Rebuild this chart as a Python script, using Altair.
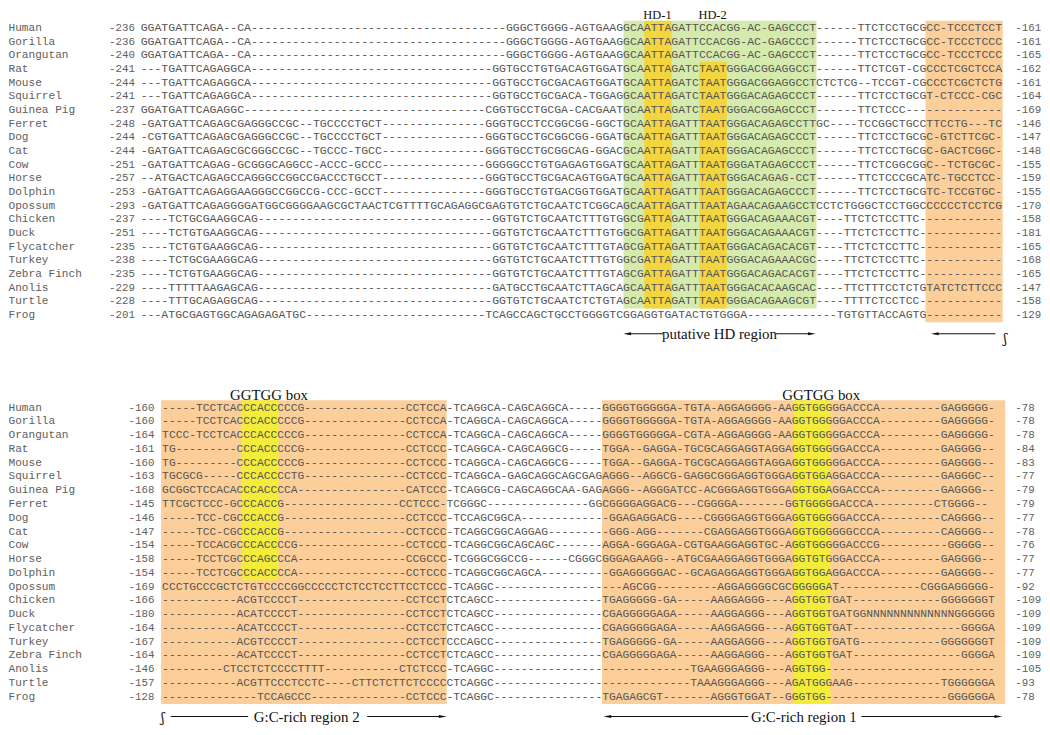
import altair as alt
import pandas as pd

def D(n):
    return "-" * n

species = ["Human", "Gorilla", "Orangutan", "Rat", "Mouse", "Squirrel", "Guinea Pig",
           "Ferret", "Dog", "Cat", "Cow", "Horse", "Dolphin", "Opossum", "Chicken",
           "Duck", "Flycatcher", "Turkey", "Zebra Finch", "Anolis", "Turtle", "Frog"]

top_first = [-236, -236, -240, -241, -244, -241, -237, -248, -244, -244, -251, -257,
             -253, -293, -237, -251, -235, -238, -235, -229, -228, -201]
top_last = [-161, -161, -165, -162, -161, -164, -169, -146, -147, -148, -155, -159,
            -155, -170, -158, -181, -165, -168, -165, -147, -158, -129]
bot_first = [-160, -160, -164, -161, -160, -163, -168, -145, -146, -147, -154, -158,
             -154, -169, -166, -180, -164, -167, -164, -146, -157, -128]
bot_last = [-78, -78, -78, -84, -83, -77, -79, -79, -77, -78, -76, -77, -77, -92,
            -109, -109, -109, -109, -109, -105, -93, -78]

top_seq = [
    "GGATGATTCAGA--CA" + D(37) + "GGGCTGGGG-AGTGAAG" + "GCAATTAGATTCCACGG-AC-GAGCCCT" + "------TTCTCCTGCG" + "CC-TCCCTCCT",
    "GGATGATTCAGA--CA" + D(37) + "GGGCTGGGG-AGTGAAG" + "GCAATTAGATTCCACGG-AC-GAGCCCT" + "------TTCTCCTGCG" + "CC-TCCCTCCC",
    "GGATGATTCAGA--CA" + D(37) + "GGGCTGGGG-AGTGAAG" + "GCAATTAGATTCCACGG-AC-GAGCCCT" + "------TTCTCCTGCG" + "CC-TCCCTCCC",
    "---TGATTCAGAGGCA" + D(35) + "GGTGCCTGTGACAGTGGAT" + "GCAATTAGATCTAATGGGACGGAGGCCT" + "------TTCTCGT-CG" + "CCCTCGCTCCA",
    "---TGATTCAGAGGCA" + D(35) + "GGTGCCTGCGACAGTGGAT" + "GCAATTAGATCTAATGGGACGGAGGCCT" + "CTCTCG--TCCGT-CG" + "CCCTCGCTCTG",
    "---TGATTCAGAGGCA" + D(35) + "GGTGCCTGCGACA-TGGAG" + "GCAATTAGATCTAATGGGACAGAGCCCT" + "------TTCTCCTGCG" + "T-CTCCC-CGC",
    "GGATGATTCAGAGGC" + D(35) + "CGGTGCCTGCGA-CACGAAT" + "GCAATTAGATCTAATGGGACGGAGCCCT" + "------TTCTCCC---" + D(11),
    "-GATGATTCAGAGCGAGGGCCGC--TGCCCCTGCT" + D(15) + "GGGTGCCTCCGGCGG-GGCT" + "GCAATTAGATTTAATGGGACAGAGCCTT" + "GC----TCCGGCTGCC" + "TTCCTG---TC",
    "-CGTGATTCAGAGCGAGGGCCGC--TGCCCCTGCT" + D(15) + "GGGTGCCTGCGGCGG-GGAT" + "GCAATTAGATTTAATGGGACAGAGCCCT" + "------TTCTCCTGCG" + "C-GTCTTCGC-",
    "-GATGATTCAGAGCGCGGGCCGC--TGCCC-TGCC" + D(15) + "GGGTGCCTGCGGCAG-GGAC" + "GCAATTAGATTTAATGGGACAGAGCCCT" + "------TTCTCCTGCG" + "C-GACTCGGC-",
    "-GATGATTCAGAG-GCGGGCAGGCC-ACCC-GCCC" + D(15) + "GGGGGCCTGTGAGAGTGGAT" + "GCAATTAGATTTAATGGGATAGAGCCCT" + "------TTCTCGGCGG" + "C--TCTGCGC-",
    "--ATGACTCAGAGCCAGGGCCGGCCGACCCTGCCT" + D(15) + "GGGTGCCTGCGACAGTGGAT" + "GCAATTAGATTTAATGGGACAGAG-CCT" + "------TTCTCCCGCA" + "TC-TGCCTCC-",
    "-GATGATTCAGAGGAAGGGCCGGCCG-CCC-GCCT" + D(15) + "GGGTGCCTGTGACGGTGGAT" + "GCAATTAGATTTAATGGGACAGAGCCCT" + "------TTCTCCTGCG" + "TC-TCCGTGC-",
    "-GATGATTCAGAGGGGATGGCGGGGAAGCGCTAACTCGTTTTGCAGAGGCGAGTGTCTGCAATCTCGGCA" + "GCAATTAGATTTAATAGAACAGAAGCCT" + "CCTCTGGGCTCCTGGC" + "CCCCCTCCTCG",
    "----TCTGCGAAGGCAG" + D(34) + "GGTGTCTGCAATCTTTGTG" + "GCGATTAGATTTAATGGGACAGAAACGT" + "----TTCTCTCCTTC-" + D(11),
    "----TCTGTGAAGGCAG" + D(34) + "GGTGTCTGCAATCTTTGTG" + "GCGATTAGATTTAATGGGACAGAAACGT" + "----TTCTCTCCTTC-" + D(11),
    "----TCTGTGAAGGCAG" + D(34) + "GGTGTCTGCAATCTTTGTA" + "GCGATTAGATTTAATGGGACAGACACGT" + "----TTCTCTCCTTC-" + D(11),
    "----TCTGCGAAGGCAG" + D(34) + "GGTGTCTGCAATCTTTGTG" + "GCGATTAGATTTAATGGGACAGAAACGC" + "----TTCTCTCCTTC-" + D(11),
    "----TCTGTGAAGGCAG" + D(34) + "GGTGTCTGCAATCTTTGTA" + "GCGATTAGATTTAATGGGACAGACACGT" + "----TTCTCTCCTTC-" + D(11),
    "----TTTTTAAGAGCAG" + D(34) + "GATGCCTGCAATCTTAGCA" + "GCAATTAGATTTAATGGGACACAAGCAC" + "----TTCTTTCCTCTG" + "TATCTCTTCCC",
    "----TTTGCAGAGGCAG" + D(34) + "GGTGTCTGCAATCTCTGTA" + "GCAATTAGATTTAATGGGACAGAAGCGT" + "----TTTTCTCCTCC-" + D(11),
    "---ATGCGAGTGGCAGAGAGATGC" + D(26) + "TCAGCCAGCTGCCTGGGGTC" + "GGAGGTGATACTGTGGGA" + D(13) + "TGTGTTACCAGTG" + D(11),
]

bot_seq = [
    "-----TCCTCACCCACCCCCG" + D(15) + "CCTCCA" + "-TCAGGCA-CAGCAGGCA-----" + "GGGGTGGGGGA-TGTA-AGGAGGGG-AAGGTGGGGGACCCA" + D(9) + "GAGGGGG-",
    "-----TCCTCACCCACCCCCG" + D(15) + "CCTCCA" + "-TCAGGCA-CAGCAGGCA-----" + "GGGGTGGGGGA-TGTA-AGGAGGGG-AAGGTGGGGGACCCA" + D(9) + "GAGGGGG-",
    "TCCC-TCCTCACCCACCCCCG" + D(15) + "CCTCCA" + "-TCAGGCA-CAGCAGGCA-----" + "GGGGTGGGGGA-CGTA-AGGAGGGG-AAGGTGGGGGACCCA" + D(9) + "GAGGGGG-",
    "TG---------CCCACCCCCG" + D(15) + "CCTCCC" + "-TCAGGCA-CAGCAGGCG-----" + "TGGA--GAGGA-TGCGCAGGAGGTAGGAGGTGGGGGACCCA" + D(9) + "GAGGGG--",
    "TG---------CCCACCCCCG" + D(15) + "CCTCCC" + "-TCAGGCA-CAGCAGGCG-----" + "TGGA--GAGGA-TGCGCAGGAGGTAGGAGGTGGGGGACCCA" + D(9) + "GAGGGG--",
    "TGCGCG-----CCCACCCCTG" + D(15) + "CCTCCC" + "-TCAGGCA-GAGCAGGCAGCGAG" + "AGGG--AGGCG-GAGGCGGGAGGTGGGAGGTGGAGGACCCA" + D(9) + "GAGGGC--",
    "GCGGCTCCACACCCACCCCA" + D(16) + "CATCCC" + "-TCAGGCG-CAGCAGGCAA-GAG" + "AGGG--AGGGATCC-ACGGGAGGTGGGAGGTGGAGGACCCA" + D(9) + "GAGGGG--",
    " TTCGCTCCC-GCCCACCG" + D(17) + "CCTCCC" + "-TCGGGC" + D(15) + "G" + "GCGGGGAGGACG---CGGGGA-------GGTGGGGGACCCA" + D(9) + "CTGGGG--",
    "-----TCC-CGCCCACCG" + D(18) + "CCTCCC" + "-TCCAGCGGCA" + D(12) + "-GGAGAGGACG----CGGGGAGGTGGGAGGTGGGGGACCCA" + D(9) + "CAGGGG--",
    "-----TCC-CGCCCACCG" + D(18) + "CCTCCC" + "-TCAGGCGGCAGGAG" + D(8) + "-GGG-AGG-------CGAGGAGGTGGGAGGTGGGGGGCCCA" + D(9) + "CAGGGG--",
    "-----TCCACGCCCACCCCG" + D(16) + "CCTCCC" + "-TCAGGCGGCAGCAGC" + D(7) + "AGGA-GGGAGA-CGTGAAGGAGGTGC-AGGTGGGGGACCCG" + D(10) + "GGGGG--",
    "-----TCCTCGCCCAGCCCA" + D(16) + "CCGCCC" + "-TCGGGCGGCCG------CGGGC" + "GGGAGAAGG--ATGCGAAGGAGGTGGGAGGTGTGGGACCCA" + D(9) + "GAGGGG--",
    "-----TCCTCGCCCACCCCA" + D(16) + "CCTCCC" + "-TCAGGCGGCAGCA" + D(9) + "-GGAGGGGGAC--GCAGAGGAGGTGGGAGGTGGAGGACCCA" + D(9) + "GAGGGG--",
    "CCCTGCCCGCTCTGTCCCCGGCCCCCTCTCCTCCTTCCTCCC" + "-TCAGGC" + D(16) + "---AGCGG" + D(9) + "AGGAGGGGCGC" + "GGGGG" + "AT" + D(12) + "CGGGAGGGGG-",
    D(11) + "ACGTCCCCT" + D(16) + "CCTCCT" + "CTCAGCC" + D(16) + "TGAGGGGG-GA" + D(5) + "AAGGAGGG---A" + "GGTGG" + "TGAT" + D(13) + "GGGGGGGT",
    D(11) + "ACATCCCCT" + D(16) + "CCTCCT" + "CTCAGCC" + D(16) + "CGAGGGGGAGA" + D(5) + "AAGGAGGG---A" + "GGTGG" + "TGATGG" + "N" * 13 + "GGGGGG",
    D(11) + "ACATCCCCT" + D(16) + "CCTCCT" + "CTCAGCC" + D(16) + "CGAGGGGGAGA" + D(5) + "AAGGAGGG---A" + "GGTGG" + "TGAT" + D(16) + "GGGGA",
    D(11) + "ACGTCCCCT" + D(16) + "CCTCCT" + "CCCAGCC" + D(16) + "TGAGGGGG-GA" + D(5) + "AAGGAGGG---A" + "GGTGG" + "TGATG" + D(12) + "GGGGGGGT",
    D(11) + "ACATCCCCT" + D(16) + "CCTCCT" + "CTCAGCC" + D(16) + "CGAGGGGGAGA" + D(5) + "AAGGAGGG---A" + "GGTGG" + "TGAT" + D(16) + "GGGGA",
    D(9) + "CTCCTCTCCCCTTTT" + D(11) + "CTCTCCC" + "-TCAGGC" + D(16) + D(13) + "TGAAGGGAGGG" + "---A" + "GGTGG" + D(25),
    D(11) + "ACGTTCCCTCCTC" + D(4) + "CTTCTCTTCTCCCC" + "CTCAGGC" + D(16) + D(13) + "TAAAGGGAGGG" + "---A" + "GATGG" + "GAAG" + D(13) + "TGGGGGGA",
    D(14) + "TCCAGCCC" + D(14) + "CCTCCC" + "-TCAGGC" + D(16) + "TGAGAGCGT" + D(7) + "AGGGTGGAT--G" + "GGTGG" + D(18) + "GGGGGGA",
]

for s in top_seq:
    assert len(s) == 125, (len(s), s)
for s in bot_seq:
    assert len(s) == 123, (len(s), s)

# ---- layout (page pixel coordinates) ----
W, H, PAGE = 1042, 719, 8
TX0, TCW, TY0, TDY = 141.7, 6.95, 25.5, 13.76
BX0, BCW, BY0, BDY = 163.3, 6.83, 408.0, 13.87
GREEN, YEL_T, ORANGE, YEL_B = "#d5ebae", "#f3d63f", "#fccf9a", "#f3ec3a"
SEQ_COL, LAB_COL = "#555555", "#606060"

xs = alt.Scale(domain=[PAGE, PAGE + W], range=[0, W], nice=False, zero=False)
ys = alt.Scale(domain=[PAGE, PAGE + H], range=[0, H], nice=False, zero=False)


def X(f="x"):
    return alt.X(f"{f}:Q", scale=xs, axis=None)


def Y(f="y"):
    return alt.Y(f"{f}:Q", scale=ys, axis=None)


# highlight boxes: (block, col0, col1, row0, row1, colour)
boxes = [
    ("t", 70, 98, 0, 20, GREEN), ("t", 73, 77, 0, 20, YEL_T), ("t", 81, 85, 3, 20, YEL_T),
    ("t", 113.8, 125, 0, 21, ORANGE),
    ("b", -0.15, 42, 0, 21, ORANGE), ("b", 64.9, 124.4, 0, 21, ORANGE),
    ("b", 11.7, 17.2, 0, 12, YEL_B), ("b", 93.2, 98.6, 0, 21, YEL_B),
]
rows = []
for blk, c0, c1, r0, r1, col in boxes:
    x0, cw, y0, dy = (TX0, TCW, TY0, TDY) if blk == "t" else (BX0, BCW, BY0, BDY)
    rows.append(dict(x=x0 + c0 * cw, x2=x0 + c1 * cw,
                     y=y0 + r0 * dy - dy / 2 - 0.5, y2=y0 + r1 * dy + dy / 2 + 0.5, fill=col))
rect_df = pd.DataFrame(rows)
rects = alt.Chart(rect_df).mark_rect().encode(
    x=X(), x2="x2:Q", y=Y(), y2="y2:Q", color=alt.Color("fill:N", scale=None))

n = len(species)
top_df = pd.DataFrame(dict(seq=top_seq, x=[TX0] * n, y=[TY0 + i * TDY for i in range(n)]))
bot_df = pd.DataFrame(dict(seq=bot_seq, x=[BX0] * n, y=[BY0 + i * BDY for i in range(n)]))

top_text = alt.Chart(top_df).mark_text(align="left", baseline="middle", font="Liberation Mono",
                                       fontSize=TCW / 0.6, color=SEQ_COL).encode(x=X(), y=Y(), text="seq:N")
bot_text = alt.Chart(bot_df).mark_text(align="left", baseline="middle", font="Liberation Mono",
                                       fontSize=BCW / 0.6, color=SEQ_COL).encode(x=X(), y=Y(), text="seq:N")

names_df = pd.concat([
    pd.DataFrame(dict(t=species, x=[PAGE + 0.5] * n, y=top_df["y"])),
    pd.DataFrame(dict(t=species, x=[PAGE + 0.5] * n, y=bot_df["y"])),
])
names = alt.Chart(names_df).mark_text(align="left", baseline="middle", font="Liberation Mono",
                                      fontSize=11.2, color=LAB_COL).encode(x=X(), y=Y(), text="t:N")

lnum_df = pd.concat([
    pd.DataFrame(dict(t=[str(v) for v in top_first], x=[136.0] * n, y=top_df["y"])),
    pd.DataFrame(dict(t=[str(v) for v in bot_first], x=[155.5] * n, y=bot_df["y"])),
])
lnums = alt.Chart(lnum_df).mark_text(align="right", baseline="middle", font="Liberation Mono",
                                     fontSize=10.9, color=LAB_COL).encode(x=X(), y=Y(), text="t:N")
rnum_df = pd.concat([
    pd.DataFrame(dict(t=[str(v) for v in top_last], x=[1023.0] * n, y=top_df["y"])),
    pd.DataFrame(dict(t=[str(v) for v in bot_last], x=[1023.0] * n, y=bot_df["y"])),
])
rnums = alt.Chart(rnum_df).mark_text(align="left", baseline="middle", font="Liberation Mono",
                                     fontSize=10.9, color=LAB_COL).encode(x=X(), y=Y(), text="t:N")

# annotations
TOP_AY = TY0 + 21 * TDY + 19
BOT_AY = BY0 + 21 * BDY + 20
hd_df = pd.DataFrame(dict(t=["HD-1", "HD-2"], x=[662.5, 718.0], y=[16.6, 16.6]))
hd = alt.Chart(hd_df).mark_text(align="center", baseline="alphabetic", font="Liberation Serif",
                                fontSize=12.5, color="#111").encode(x=X(), y=Y(), text="t:N")

ann_labels = ["putative HD region", "GGTGG box", "GGTGG box",
              "G:C-rich region 2", "G:C-rich region 1"]
ann_x = [725.0, 271.0, 827.5, 309.0, 810.0]
ann_y = [TOP_AY, 395.0, 395.0, BOT_AY, BOT_AY]
ann_df = pd.DataFrame(dict(t=ann_labels, x=ann_x, y=ann_y))
ann = alt.Chart(ann_df).mark_text(align="center", baseline="middle", font="Liberation Serif",
                                  fontSize=15, color="#111").encode(x=X(), y=Y(), text="t:N")

squig_df = pd.DataFrame(dict(t=["ʃ", "ʃ"], x=[1013.0, 164.0], y=[TOP_AY + 5, BOT_AY + 1]))
squig = alt.Chart(squig_df).mark_text(align="center", baseline="middle", font="DejaVu Serif",
                                      fontSize=13, color="#111").encode(x=X(), y=Y(), text="t:N")

lines_df = pd.DataFrame(dict(
    x=[632, 782, 942, 172, 370, 612, 868],
    x2=[668, 818, 1003, 250, 446, 754, 1006],
    y=[TOP_AY, TOP_AY, TOP_AY, BOT_AY, BOT_AY, BOT_AY, BOT_AY]))
lines = alt.Chart(lines_df).mark_rule(color="#111", strokeWidth=1.1).encode(x=X(), x2="x2:Q", y=Y())

RIGHT = "M1,0L-1,-0.4L-1,0.4Z"
LEFT = "M-1,0L1,-0.4L1,0.4Z"
heads_df = pd.DataFrame(dict(x=[632, 818, 942, 446, 612, 1006],
                             y=[TOP_AY, TOP_AY, TOP_AY, BOT_AY, BOT_AY, BOT_AY],
                             s=[LEFT, RIGHT, LEFT, RIGHT, LEFT, RIGHT]))
heads = alt.Chart(heads_df).mark_point(filled=True, color="#111", opacity=1, size=60).encode(
    x=X(), y=Y(), shape=alt.Shape("s:N", scale=None))

chart = alt.layer(rects, top_text, bot_text, names, lnums, rnums, hd, ann, squig, lines, heads).properties(
    width=W, height=H, padding=0, autosize="none"
).configure_view(stroke=None)

chart.save("out.html", embed_options={"renderer": "svg", "actions": False})
